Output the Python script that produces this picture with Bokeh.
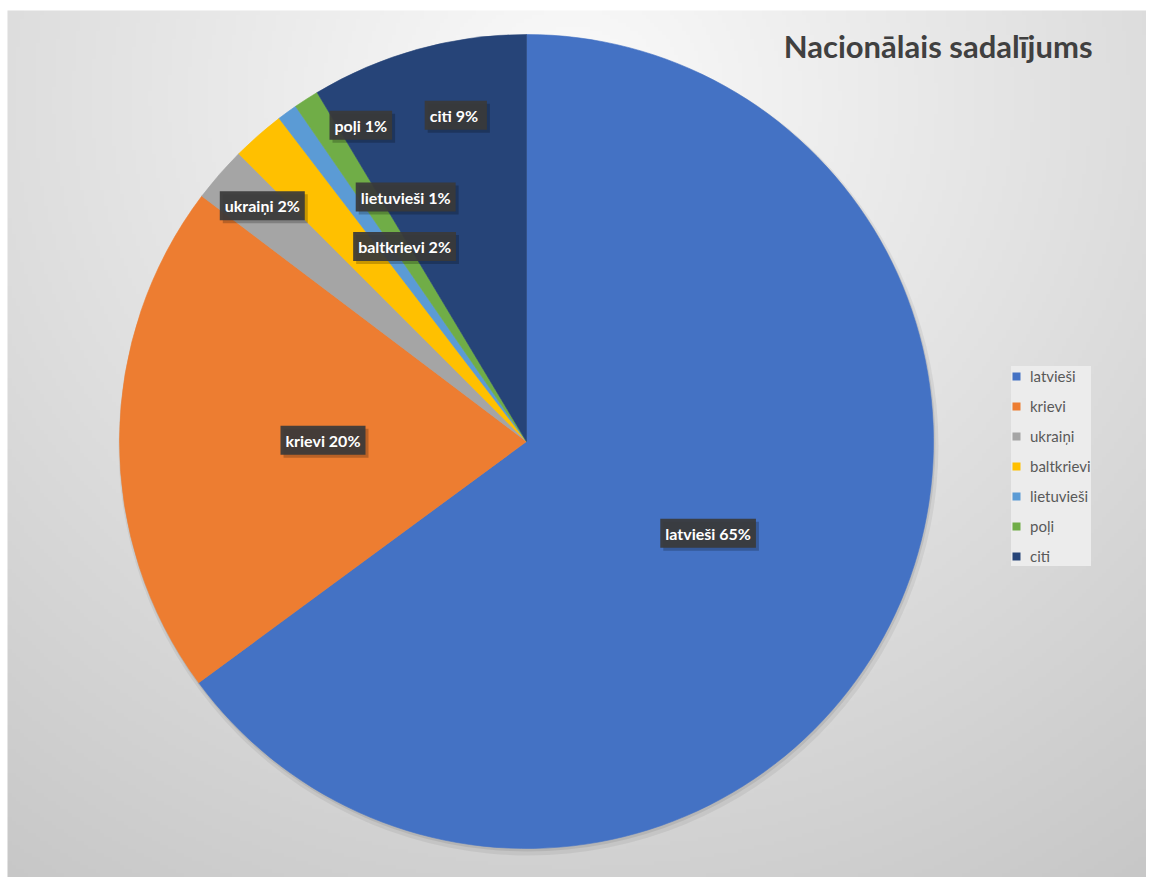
import numpy as np
from bokeh.plotting import figure
from bokeh.models import ColumnDataSource, Legend, LegendItem, Range1d
from bokeh.core.properties import value
from bokeh.embed import file_html
from bokeh.resources import INLINE

# ---- data ----
title_text = "Nacionālais sadalījums"
categories = ["latvieši", "krievi", "ukraiņi", "baltkrievi", "lietuvieši", "poļi", "citi"]
shares = [64.9, 20.4, 2.2, 2.1, 0.8, 1.0, 8.6]
label_texts = ["latvieši 65%", "krievi 20%", "ukraiņi 2%", "baltkrievi 2%",
               "lietuvieši 1%", "poļi 1%", "citi  9%"]
colors = ["#4472C4", "#ED7D31", "#A5A5A5", "#FFC000", "#5B9BD5", "#70AD47", "#264478"]

# ---- layout parameters (label placement: fraction of radius, clockwise shift in degrees) ----
label_radius = [0.50, 0.50, 0.87, 0.565, 0.67, 0.877, 0.82]
label_shift = [0.0, 0.0, 0.7, 9.2, 9.7, 5.1, 3.25]

W, H = 1146, 877
CX, CY, R = 526.0, H - 441.0, 407.0

p = figure(width=W, height=H, x_range=Range1d(0, W), y_range=Range1d(0, H),
           output_backend="svg", toolbar_location=None, min_border=0)
p.axis.visible = False
p.grid.visible = False
p.outline_line_color = None
p.background_fill_color = "white"
p.border_fill_color = "white"

# ---- background radial gradient (chart area starts at x=7, y=10 from top) ----
step = 4
X0, Y0 = 7, 10
nx, ny = (W - X0) // step + 1, (H - Y0) // step + 1
xs = X0 + np.arange(nx) * step
ys_top = H - np.arange(ny) * step  # row 0 = bottom, values are screen-from-top
X, Y = np.meshgrid(xs, ys_top)
dist = np.hypot((X - 570) * 1.0, (Y - 100) * 1.05)
g = np.clip(251 - 0.052 * dist, 190, 252).astype(np.uint32)
img = (255 << 24) | (g << 16) | (g << 8) | g
p.image_rgba(image=[img.astype(np.uint32)], x=X0, y=0, dw=W - X0, dh=H - Y0)

# ---- pie ----
frac = np.array(shares) / np.sum(shares)
cum_end = np.cumsum(frac)
cum_start = cum_end - frac
cw_start = cum_start * 360.0
cw_end = cum_end * 360.0
start_angle = np.deg2rad(90.0 - cw_end)
end_angle = np.deg2rad(90.0 - cw_start)

src = ColumnDataSource(dict(cat=categories, color=colors,
                            start=start_angle, end=end_angle))

# soft shadow
p.circle(x=[CX + 2], y=[CY - 4], radius=R + 3, fill_color="black", fill_alpha=0.06, line_color=None)
p.circle(x=[CX + 1], y=[CY - 2], radius=R + 1, fill_color="black", fill_alpha=0.08, line_color=None)

p.wedge(x=CX, y=CY, radius=R, start_angle="start", end_angle="end",
        fill_color="color", line_color="color", line_width=0.6, source=src)

# ---- data labels ----
mid = (cw_start + cw_end) / 2.0 + np.array(label_shift)
lr = np.array(label_radius) * R
lx = CX + lr * np.sin(np.deg2rad(mid))
ly = CY + lr * np.cos(np.deg2rad(mid))
lsrc = ColumnDataSource(dict(x=lx, y=ly, t=label_texts))

common = dict(text_font=value("Lato"), text_font_style="bold", text_font_size="16px",
              text_align="center", text_baseline="middle", padding=5)
p.text(x="x", y="y", text="t", source=lsrc, x_offset=3, y_offset=3,
       text_color="black", text_alpha=0.0,
       background_fill_color="black", background_fill_alpha=0.22, **common)
p.text(x="x", y="y", text="t", source=lsrc, text_color="white",
       background_fill_color="#3a3a3a", background_fill_alpha=0.92, **common)

# ---- title ----
p.text(x=[1092], y=[H - 45], text=[title_text], text_align="right",
       text_baseline="middle", text_font=value("Lato"), text_font_style="bold",
       text_font_size="31px", text_color="#404040")

# ---- legend ----
items = []
for cat, col in zip(categories, colors):
    r = p.quad(left=[np.nan], right=[np.nan], top=[np.nan], bottom=[np.nan],
               fill_color=col, line_color=None)
    items.append(LegendItem(label=cat, renderers=[r]))
legend = Legend(items=items, location=(1011, H - 566), margin=0, padding=8, spacing=10,
                glyph_width=10, glyph_height=10, label_standoff=9, label_height=20,
                label_text_font="Lato", label_text_font_size="15px",
                label_text_color="#595959", background_fill_color="#ececec",
                background_fill_alpha=1.0, border_line_color=None)
p.add_layout(legend)

open("out.html", "w").write(file_html(p, INLINE))
